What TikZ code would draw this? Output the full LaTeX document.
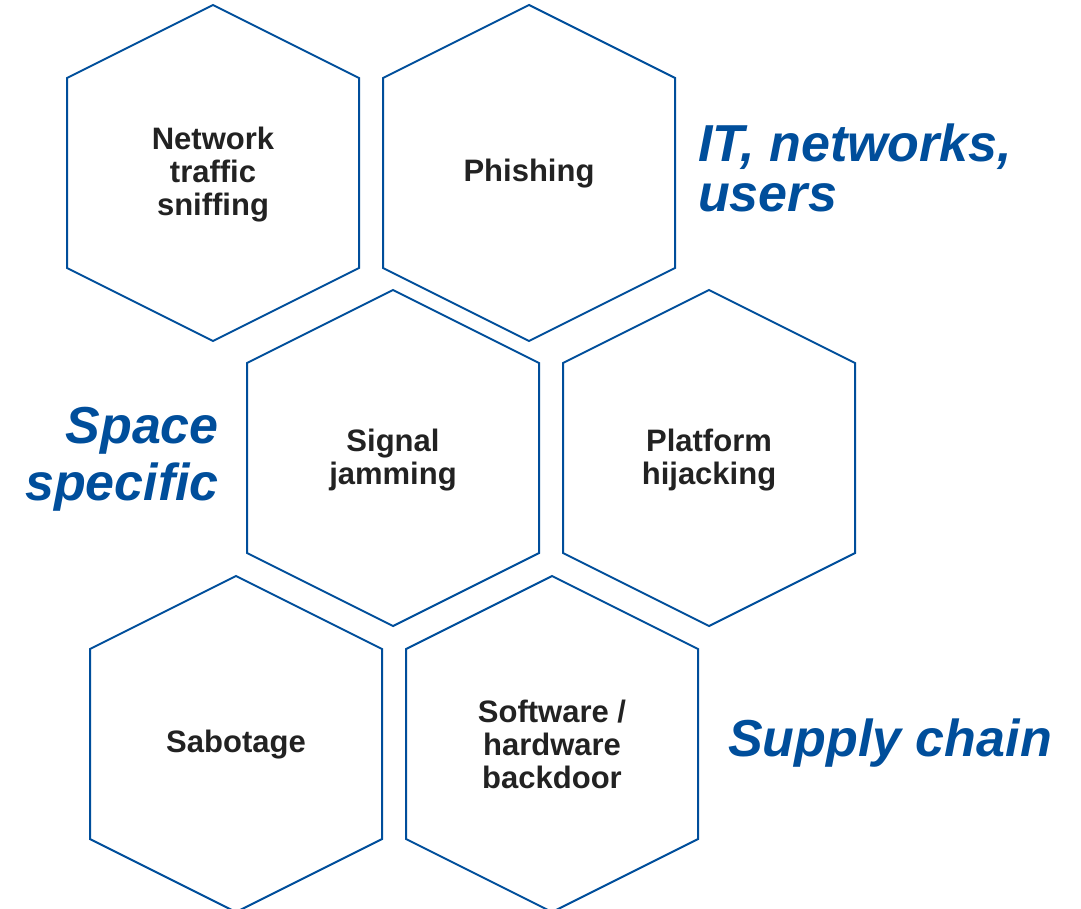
\documentclass[tikz,border=0pt]{standalone}
\usepackage{fontspec}
\setmainfont{Liberation Sans}
\definecolor{hexblue}{RGB}{0,78,155}
\definecolor{labelgray}{RGB}{34,34,34}
\tikzset{
    hexline/.style={draw=hexblue, line width=2pt, line join=miter},
    cellname/.style={text=labelgray, font=\bfseries\fontsize{31}{33}\selectfont, align=center, inner sep=0pt},
    groupname/.style={text=hexblue, font=\bfseries\itshape\fontsize{52}{50}\selectfont, inner sep=0pt}
}
\begin{document}
\begin{tikzpicture}[x=1pt, y=-1pt]
    \useasboundingbox (0,0) rectangle (1081,909);
    % hexagons, pointy top
    \foreach \cx/\cy in {213/173, 529/173, 393/458, 709/458, 236/744, 552/744}{
        \draw[hexline] (\cx,\cy) ++(0,-168) -- ++(146,73) -- ++(0,190) -- ++(-146,73) -- ++(-146,-73) -- ++(0,-190) -- cycle;
    }
    \node[cellname] (sniff) at (213,175) {Network\\traffic\\sniffing};
    \node[cellname] (phish) at (529,174) {Phishing};
    \node[cellname] (jam) at (393,460) {Signal\\jamming};
    \node[cellname] (hijack) at (709,460) {Platform\\hijacking};
    \node[cellname] (sabo) at (236,745) {Sabotage};
    \node[cellname] (backdoor) at (552,744) {Software /\\hardware\\backdoor};
    % group labels
    \node[groupname, align=left, anchor=west] (itnet) at (698,168) {IT, networks,\\users};
    \node[groupname, font=\bfseries\itshape\fontsize{52}{57}\selectfont, align=right, anchor=east] (space) at (219,459.5) {Space\\specific};
    \node[groupname, anchor=base west] (supply) at (728,756) {Supply chain};
\end{tikzpicture}
\end{document}
